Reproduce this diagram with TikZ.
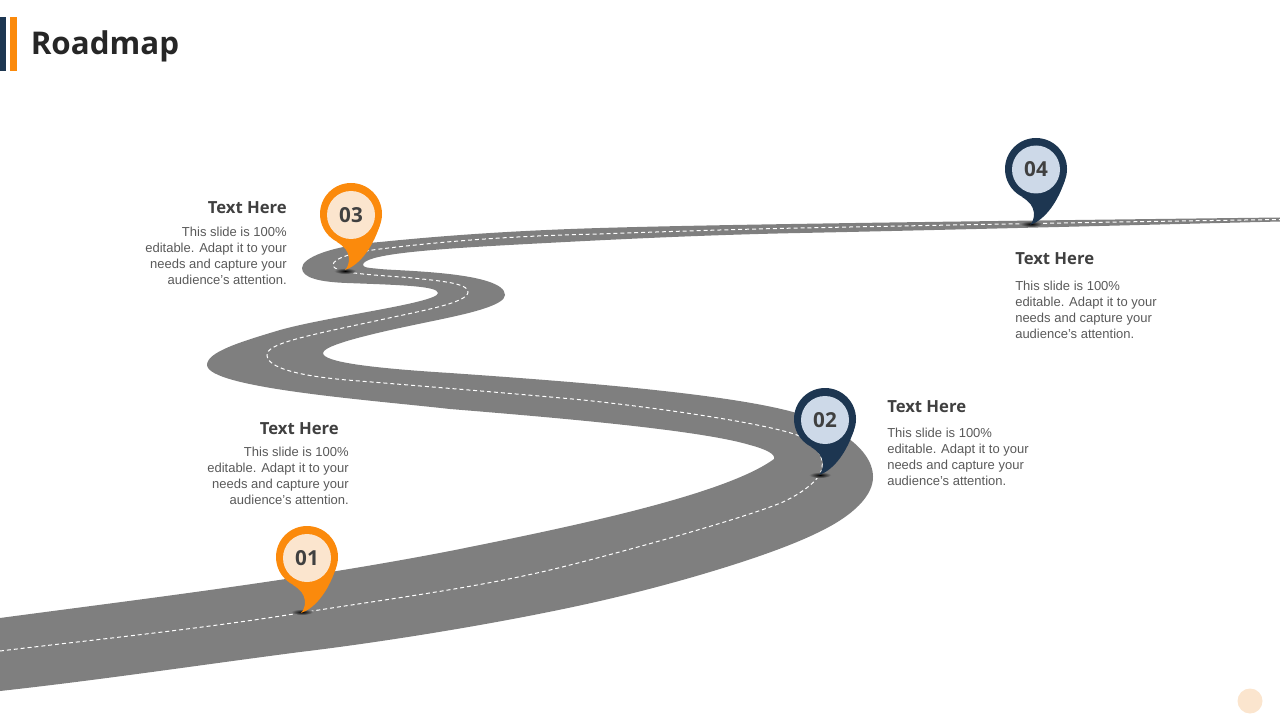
\documentclass[tikz,border=0pt]{standalone}
\usepackage{fontspec}
\setmainfont{Liberation Sans}
\newfontfamily\headfont{Open Sans}
\usetikzlibrary{positioning}

\definecolor{roadgray}{HTML}{7F7F7F}
\definecolor{pinorange}{HTML}{FB8A0C}
\definecolor{pinnavy}{HTML}{1D3651}
\definecolor{lightpeach}{HTML}{FBE5CE}
\definecolor{lightblue}{HTML}{CDD9E8}
\definecolor{headgray}{HTML}{404040}
\definecolor{bodygray}{HTML}{595959}

\tikzset{
  pinnumber/.style={circle, inner sep=0pt, minimum size=36pt, text=headgray, font=\headfont\bfseries\fontsize{15.5}{18}\selectfont},
  headtext/.style={inner sep=0pt, text=headgray, font=\headfont\bfseries\fontsize{12.5}{14}\selectfont},
  bodytext/.style={inner sep=0pt, text=bodygray, font=\fontsize{9.75}{12}\selectfont},
  roadshadow/.style={inner color=black, outer color=roadgray},
  pics/pinbody/.style={
    code={
      \fill[#1] (0,0) circle[radius=31];
      \fill[#1] (-14,28) .. controls (-6,33) and (-3,37) .. (-2,44) .. controls (-2,49) and (-3,53) .. (-6,56)
        .. controls (6,52) and (20,38) .. (29,11) -- cycle;
    }
  },
}

\begin{document}
\begin{tikzpicture}[x=0.75pt, y=-0.75pt]
  \useasboundingbox (0,0) rectangle (1280,720);

  \fill[pinnavy] (0,17) rectangle (6,71);
  \fill[pinorange] (10,17) rectangle (17,71);
  \node[inner sep=0pt, anchor=west, text=black!85, font=\headfont\bfseries\fontsize{23.5}{30}\selectfont] (title) at (30.5,46.5) {Roadmap};

  \fill[roadgray] (0,618) .. controls (150,598) and (300,580) .. (450,551)
    .. controls (570,527) and (725,495) .. (774,459) .. controls (776,454) and (765,449) .. (750,445)
    .. controls (700,430) and (560,418) .. (450,409) .. controls (370,400) and (208,388) .. (207,365)
    .. controls (207,352) and (240,342) .. (280,330) .. controls (330,316) and (438,303) .. (438,293)
    .. controls (438,286) and (400,285) .. (347,283) .. controls (320,282) and (302,278) .. (302,268)
    .. controls (302,258) and (330,246) .. (380,242) .. controls (430,237) and (500,231) .. (600,228)
    .. controls (700,225) and (900,222) .. (1280,217.5) -- (1280,221.5)
    .. controls (1100,226) and (900,231) .. (800,233) .. controls (700,235) and (600,240) .. (500,245.5)
    .. controls (420,250) and (363,255) .. (363,265) .. controls (363,268) and (372,268) .. (380,269)
    .. controls (400,271) and (505,272) .. (505,295) .. controls (505,305) and (470,313) .. (447,318)
    .. controls (420,324) and (323,342) .. (323,353) .. controls (323,362) and (370,368) .. (450,373)
    .. controls (550,380) and (720,392) .. (793,412) .. controls (825,421) and (873,445) .. (873,477)
    .. controls (873,495) and (855,515) .. (817,533) .. controls (770,556) and (680,582) .. (617,597)
    .. controls (530,618) and (400,640) .. (300,652) .. controls (200,665) and (100,680) .. (0,691) -- cycle;
  \draw[white, line width=0.75pt, dash pattern=on 3pt off 2.2pt] (0,651) .. controls (100,639) and (200,629) .. (300,613)
    .. controls (380,600) and (470,589) .. (550,570) .. controls (600,558) and (740,520) .. (783,502)
    .. controls (800,494) and (812,485) .. (818,477) .. controls (830,460) and (815,442) .. (797,435)
    .. controls (760,422) and (650,407) .. (583,400) .. controls (530,395) and (470,390) .. (347,380)
    .. controls (300,376) and (267,368) .. (267,355) .. controls (267,344) and (300,337) .. (380,320)
    .. controls (420,311) and (468,303) .. (468,292) .. controls (468,283) and (440,281) .. (413,278)
    .. controls (380,275) and (333,274) .. (333,265) .. controls (333,258) and (355,252) .. (380,249)
    .. controls (430,243) and (500,236) .. (600,234) .. controls (680,231) and (750,229) .. (800,228)
    .. controls (900,226) and (1100,222) .. (1280,219.5);

  \shade[roadshadow] (302,612) ellipse[x radius=11, y radius=3];
  \shade[roadshadow] (820,475) ellipse[x radius=11, y radius=3];
  \shade[roadshadow] (345,271) ellipse[x radius=11, y radius=3];
  \shade[roadshadow] (1031,224) ellipse[x radius=11, y radius=3];

  \pic at (307,557) {pinbody=pinorange};
  \pic at (825,419) {pinbody=pinnavy};
  \pic at (351,214) {pinbody=pinorange};
  \pic at (1036,169) {pinbody=pinnavy};

  \node[pinnumber, fill=lightpeach] (n1) at (307,558) {01};
  \node[pinnumber, fill=lightblue] (n2) at (825,420) {02};
  \node[pinnumber, fill=lightpeach] (n3) at (351,215) {03};
  \node[pinnumber, fill=lightblue] (n4) at (1036,169.5) {04};

  \node[headtext, anchor=east] (h1) at (339,429) {Text Here};
  \node[bodytext, anchor=east, align=right] (b1) at (349,475.5) {This slide is 100\%\\editable. Adapt it to your\\needs and capture your\\audience's attention.};

  \node[headtext, anchor=west] (h2) at (887,407) {Text Here};
  \node[bodytext, anchor=west, align=left] (b2) at (887,456.5) {This slide is 100\%\\editable. Adapt it to your\\needs and capture your\\audience's attention.};

  \node[headtext, anchor=east] (h3) at (287,208) {Text Here};
  \node[bodytext, anchor=east, align=right] (b3) at (287,255.5) {This slide is 100\%\\editable. Adapt it to your\\needs and capture your\\audience's attention.};

  \node[headtext, anchor=west] (h4) at (1015,259) {Text Here};
  \node[bodytext, anchor=west, align=left] (b4) at (1015,309.5) {This slide is 100\%\\editable. Adapt it to your\\needs and capture your\\audience's attention.};

  \fill[lightpeach] (1250,701) circle[radius=12.5];
\end{tikzpicture}
\end{document}
